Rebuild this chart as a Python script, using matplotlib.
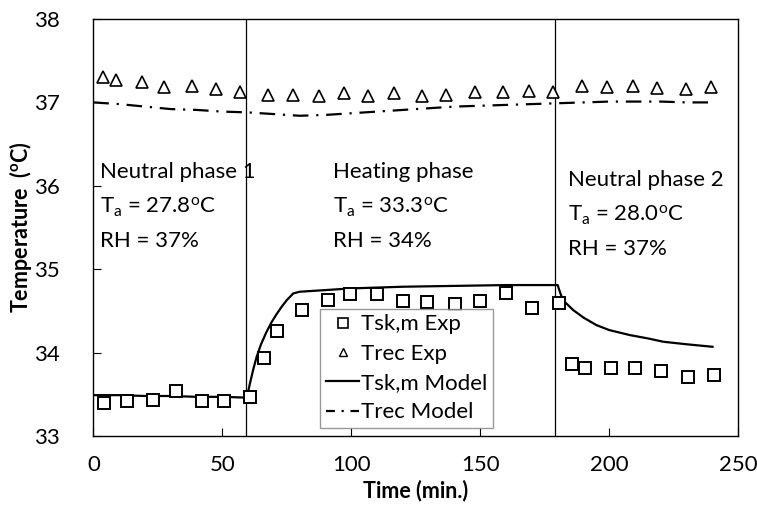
import matplotlib
matplotlib.use("Agg")
import matplotlib.pyplot as plt
from matplotlib.lines import Line2D

plt.rcParams['font.family'] = ['Lato', 'DejaVu Sans']
plt.rcParams['mathtext.fontset'] = 'custom'
plt.rcParams['mathtext.rm'] = 'Lato'
plt.rcParams['mathtext.it'] = 'Lato'
plt.rcParams['mathtext.bf'] = 'Lato:bold'

# Measured mean skin temperature
tsk_exp_t = [4.2, 13.1, 23.1, 32.0, 42.1, 50.7, 60.9, 66.0, 71.1, 80.8, 91.1, 99.5,
             109.8, 119.9, 129.2, 140.2, 149.9, 159.8, 169.9, 180.4, 185.7, 190.6,
             200.5, 210.0, 219.9, 230.6, 240.6]
tsk_exp_T = [33.40, 33.42, 33.43, 33.54, 33.42, 33.42, 33.47, 33.94, 34.26, 34.51,
             34.63, 34.70, 34.70, 34.62, 34.61, 34.58, 34.62, 34.71, 34.53, 34.60,
             33.86, 33.81, 33.81, 33.81, 33.78, 33.71, 33.73]

# Measured rectal temperature
trec_exp_t = [3.9, 8.7, 18.8, 27.4, 38.1, 47.4, 56.9, 67.6, 77.5, 87.6, 97.1, 106.6,
              116.6, 127.3, 136.6, 147.9, 158.7, 168.8, 178.1, 189.5, 199.0, 209.1,
              218.4, 229.7, 239.3]
trec_exp_T = [37.30, 37.27, 37.24, 37.18, 37.20, 37.16, 37.12, 37.09, 37.09, 37.08,
              37.11, 37.08, 37.11, 37.08, 37.09, 37.12, 37.12, 37.14, 37.13, 37.20,
              37.19, 37.20, 37.17, 37.16, 37.18]

# Model predictions
tsk_mod_t = [0, 10, 20, 30, 40, 50, 59.5, 60.7, 62, 63.3, 65, 67, 69, 71, 73, 75, 77.5,
             80, 90, 100, 120, 140, 160, 180, 180.5, 181.5, 183, 186, 190, 195, 200,
             208, 215, 221, 230, 240]
tsk_mod_T = [33.49, 33.49, 33.48, 33.48, 33.47, 33.47, 33.46, 33.63, 33.80, 33.95,
             34.10, 34.24, 34.36, 34.46, 34.55, 34.63, 34.71, 34.73, 34.75, 34.77,
             34.79, 34.80, 34.81, 34.81, 34.76, 34.67, 34.60, 34.51, 34.42, 34.33,
             34.27, 34.21, 34.17, 34.13, 34.10, 34.07]

trec_mod_t = [0, 10, 20, 30, 40, 50, 60, 70, 80, 90, 100, 110, 120, 130, 140, 150, 160,
              170, 180, 190, 200, 210, 220, 230, 240]
trec_mod_T = [37.00, 36.98, 36.95, 36.92, 36.91, 36.89, 36.88, 36.86, 36.84, 36.85,
              36.87, 36.89, 36.91, 36.93, 36.95, 36.96, 36.97, 36.98, 36.99, 37.00,
              37.01, 37.01, 37.01, 37.00, 37.00]

phase_bounds = [59, 179]
x_ticks = [0, 50, 100, 150, 200, 250]
y_ticks = [33, 34, 35, 36, 37, 38]

fig = plt.figure(figsize=(7.57, 5.07), dpi=100)
ax = fig.add_axes([0.1233, 0.140, 0.852, 0.8225])

for xb in phase_bounds:
    ax.axvline(xb, color='black', lw=0.9, zorder=1)

ax.plot(tsk_mod_t, tsk_mod_T, color='black', lw=1.6, zorder=2)
ax.plot(trec_mod_t, trec_mod_T, color='black', lw=1.6, dashes=(7, 3.5, 1, 3.5), zorder=2)
ax.plot(tsk_exp_t, tsk_exp_T, ls='none', marker='s', ms=8, mfc='white', mec='black',
        mew=1.4, zorder=3)
ax.plot(trec_exp_t, trec_exp_T, ls='none', marker='^', ms=8, mfc='white', mec='black',
        mew=1.2, zorder=3)

ax.set_xlim(0, 250)
ax.set_ylim(33, 38)
ax.set_xticks(x_ticks)
ax.set_yticks(y_ticks)
ax.tick_params(direction='in', length=6, width=0.8, labelsize=16)
ax.tick_params(axis='y', pad=24)
ax.tick_params(axis='x', pad=14)
for s in ax.spines.values():
    s.set_linewidth(1.0)

ax.set_xlabel('Time (min.)', fontsize=15.5, fontweight='bold', labelpad=3)
ax.set_ylabel(r'Temperature  ($\mathbf{^{o}}$C)', fontsize=15.5, fontweight='bold', labelpad=0)

txt_kw = dict(fontsize=16, va='center', ha='left')
ax.text(2.6, 36.17, 'Neutral phase 1', **txt_kw)
ax.text(2.6, 35.74, r'T$_\mathrm{a}$ = 27.8$^\mathrm{o}$C', **txt_kw)
ax.text(2.6, 35.34, 'RH = 37%', **txt_kw)
ax.text(92.9, 36.17, 'Heating phase', **txt_kw)
ax.text(92.9, 35.74, r'T$_\mathrm{a}$ = 33.3$^\mathrm{o}$C', **txt_kw)
ax.text(92.9, 35.34, 'RH = 34%', **txt_kw)
ax.text(184, 36.07, 'Neutral phase 2', **txt_kw)
ax.text(184, 35.64, r'T$_\mathrm{a}$ = 28.0$^\mathrm{o}$C', **txt_kw)
ax.text(184, 35.24, 'RH = 37%', **txt_kw)

handles = [
    Line2D([], [], ls='none', marker='s', ms=7.5, mfc='white', mec='black', mew=1.2),
    Line2D([], [], ls='none', marker='^', ms=6, mfc='white', mec='black', mew=1.0),
    Line2D([], [], color='black', lw=1.6),
    Line2D([], [], color='black', lw=1.6, dashes=(4, 3, 1, 3)),
]
labels = ['Tsk,m Exp', 'Trec Exp', 'Tsk,m Model', 'Trec Model']
leg = ax.legend(handles, labels, loc='upper left', bbox_to_anchor=(0.352, 0.305),
                fontsize=16, frameon=True, fancybox=False, handlelength=1.5,
                handletextpad=0.1, borderpad=0.25, labelspacing=0.42, borderaxespad=0)
leg.get_frame().set_edgecolor('#808080')
leg.get_frame().set_linewidth(1.0)

fig.savefig('out.png', dpi=100)
